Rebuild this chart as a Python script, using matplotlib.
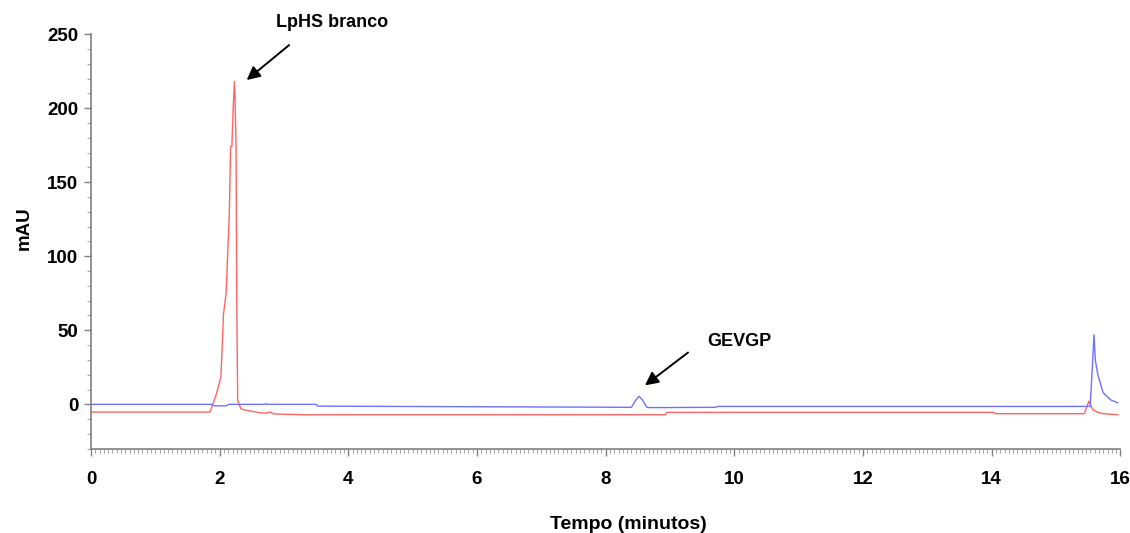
import matplotlib
matplotlib.use("Agg")
import matplotlib.pyplot as plt
from matplotlib.ticker import MultipleLocator

plt.rcParams['font.family'] = ['Liberation Sans', 'DejaVu Sans']

# red trace (LpHS branco)
red_t = [0, 1.85, 1.90, 1.95, 2.02, 2.06, 2.10, 2.15, 2.17, 2.19, 2.21, 2.23,
         2.24, 2.255, 2.265, 2.28, 2.33, 2.41, 2.6, 2.72, 2.78, 2.85, 3.3,
         8.93, 8.95, 14.03, 14.05, 15.44, 15.51, 15.57, 15.65, 15.73, 15.96]
red_y = [-5.2, -5.2, 1, 7, 18.5, 61, 75, 128, 174, 174, 200, 218,
         205, 174, 75, 2.7, -3, -4, -5.5, -6, -5.2, -6.5, -7,
         -7, -5.4, -5.4, -6.3, -6.3, 2.2, -3.6, -5.5, -6.3, -7]

# blue trace (GEVGP)
blue_t = [0, 1.88, 1.92, 2.10, 2.14, 2.70, 2.72, 2.74, 3.5, 3.52, 8.40, 8.47,
          8.52, 8.57, 8.64, 8.70, 9.70, 9.75, 15.53, 15.57, 15.59, 15.61,
          15.65, 15.73, 15.85, 15.96]
blue_y = [0, 0, -1, -1, 0, 0, 0.5, 0, 0, -1.2, -2.0, 3,
          5.4, 3, -2, -2.2, -2.0, -1.4, -1.4, 30, 47, 30,
          20, 8, 3, 1]

fig = plt.figure(figsize=(11.3, 5.33), dpi=100)
ax = fig.add_axes([0.0805, 0.158, 0.911, 0.778])

ax.plot(red_t, red_y, color='#ff6464', lw=1.0)
ax.plot(blue_t, blue_y, color='#7070ff', lw=1.0)

ax.set_xlim(0, 16)
ax.set_ylim(-30, 250)
ax.set_xticks([0, 2, 4, 6, 8, 10, 12, 14, 16])
ax.set_yticks([0, 50, 100, 150, 200, 250])
ax.xaxis.set_minor_locator(MultipleLocator(1 / 15))
ax.yaxis.set_minor_locator(MultipleLocator(10))

for s in ['top', 'right']:
    ax.spines[s].set_visible(False)
for s in ['left', 'bottom']:
    ax.spines[s].set_color('#808080')
    ax.spines[s].set_linewidth(1.2)

ax.tick_params(axis='both', which='major', color='#808080', length=5, width=1,
               labelsize=13.5)
ax.tick_params(axis='both', which='minor', color='#a8a8a8', length=3, width=0.8)
ax.tick_params(axis='x', which='major', pad=11)
ax.tick_params(axis='y', which='major', pad=4)
for lab in ax.get_xticklabels() + ax.get_yticklabels():
    lab.set_fontweight('bold')

ax.set_xlabel('Tempo (minutos)', fontsize=14, fontweight='bold')
ax.set_ylabel('mAU', fontsize=13.5, fontweight='bold')
ax.xaxis.set_label_coords(0.522, -0.161)
ax.yaxis.set_label_coords(-0.057, 0.533)

arrow = dict(arrowstyle='-|>', color='black', lw=1.4,
             shrinkA=0, shrinkB=0, mutation_scale=20)

ax.text(3.75, 258, 'LpHS branco', fontsize=13, fontweight='bold',
        ha='center', va='center', clip_on=False)
ax.annotate('', xy=(2.42, 219), xytext=(3.08, 242.6),
            annotation_clip=False, arrowprops=arrow)

ax.text(10.08, 42.6, 'GEVGP', fontsize=13, fontweight='bold',
        ha='center', va='center')
ax.annotate('', xy=(8.61, 12.8), xytext=(9.28, 35),
            annotation_clip=False, arrowprops=arrow)

fig.savefig('out.png', dpi=100)
